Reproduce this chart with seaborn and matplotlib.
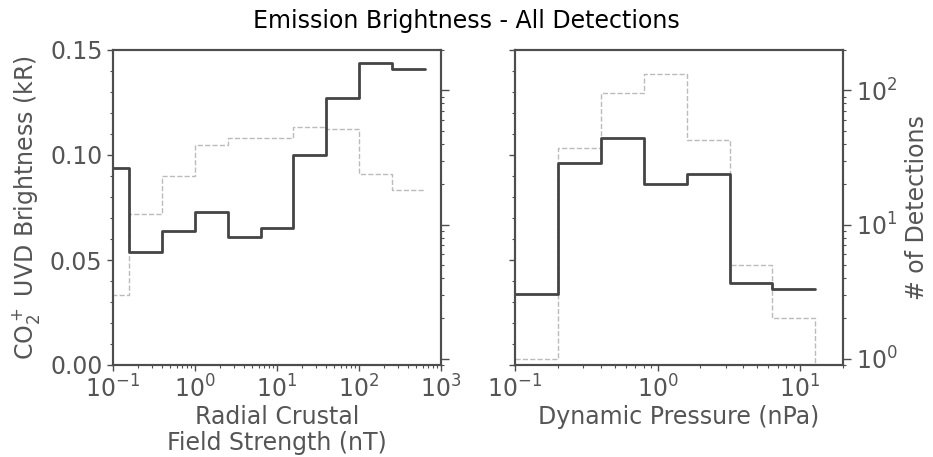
import matplotlib
matplotlib.use('Agg')
import matplotlib.pyplot as plt
import numpy as np
import pandas as pd
import seaborn as sns
from matplotlib.ticker import MultipleLocator, NullFormatter

# radial crustal field strength bins (log10 edges, first bin partly off axis)
crustal_log_edges = [-1.2, -0.8, -0.4, 0.0, 0.4, 0.8, 1.2, 1.6, 2.0, 2.4, 2.8]
crustal_brightness = [0.094, 0.054, 0.064, 0.073, 0.061, 0.065, 0.100, 0.127, 0.144, 0.141]
crustal_counts = [3, 12, 23, 39, 44, 44, 53, 52, 24, 18]

# dynamic pressure bins (nPa)
pressure_edges = [0.1, 0.2, 0.4, 0.8, 1.6, 3.2, 6.4, 12.8]
pressure_brightness = [0.034, 0.096, 0.108, 0.086, 0.091, 0.039, 0.036]
pressure_count_edges = [0.1, 0.2, 0.4, 0.8, 1.6, 3.2, 6.4, 12.8, 25.6]
pressure_counts = [1, 37, 96, 133, 43, 5, 2, 0]

TXT = '#555555'
SPINE = '#4d4d4d'
LINE = '#444444'
DASH = '#bbbbbb'

sns.set_theme(style='ticks')
plt.rcParams['font.family'] = ['DejaVu Sans']
plt.rcParams['axes.edgecolor'] = SPINE
plt.rcParams['axes.linewidth'] = 1.5


def step_frame(edges, values):
    return pd.DataFrame({'x': list(edges), 'y': list(values) + [values[-1]]})


def style_axes(ax, ax2):
    for a in (ax, ax2):
        a.tick_params(which='major', length=4, width=1, color=SPINE,
                      labelsize=17, labelcolor=TXT)
        a.tick_params(which='minor', length=2.5, width=0.8, color=SPINE)
    ax.set_xscale('log')
    ax2.set_yscale('log')
    ax.set_ylim(0, 0.15)
    ax.yaxis.set_major_locator(MultipleLocator(0.05))
    ax.yaxis.set_minor_locator(MultipleLocator(0.01))
    ax2.set_ylim(0.9, 200)
    ax2.tick_params(which='major', length=6)
    ax.set_zorder(ax2.get_zorder() + 1)
    ax.patch.set_visible(False)


fig = plt.figure(figsize=(9.33, 4.57), dpi=100)
axl = fig.add_axes([113 / 933, 92 / 457, 328 / 933, 315 / 457])
axr = fig.add_axes([515 / 933, 92 / 457, 328 / 933, 315 / 457])
axl2 = axl.twinx()
axr2 = axr.twinx()

crustal_edges = 10 ** np.array(crustal_log_edges)

sns.lineplot(data=step_frame(crustal_edges, crustal_counts), x='x', y='y', ax=axl2,
             drawstyle='steps-post', color=DASH, linestyle='--', linewidth=1, estimator=None)
sns.lineplot(data=step_frame(crustal_edges, crustal_brightness), x='x', y='y', ax=axl,
             drawstyle='steps-post', color=LINE, linewidth=2, estimator=None)
sns.lineplot(data=step_frame(pressure_count_edges, pressure_counts), x='x', y='y', ax=axr2,
             drawstyle='steps-post', color=DASH, linestyle='--', linewidth=1, estimator=None)
sns.lineplot(data=step_frame(pressure_edges, pressure_brightness), x='x', y='y', ax=axr,
             drawstyle='steps-post', color=LINE, linewidth=2, estimator=None)

style_axes(axl, axl2)
style_axes(axr, axr2)

axl.set_xlim(0.1, 1000)
axr.set_xlim(0.1, 20)

axl2.yaxis.set_major_formatter(NullFormatter())
axl2.yaxis.set_minor_formatter(NullFormatter())
axl2.set_ylabel('')
axr.yaxis.set_major_formatter(NullFormatter())
axr.set_ylabel('')

axl.set_ylabel(r'CO$_2^+$ UVD Brightness (kR)', fontsize=17, color=TXT)
axl.yaxis.set_label_coords(-0.215, 0.5)
axl.set_xlabel('Radial Crustal\nField Strength (nT)', fontsize=17, color=TXT,
               linespacing=1.1, labelpad=2)
axr.set_xlabel('Dynamic Pressure (nPa)', fontsize=17, color=TXT, labelpad=2)
axr2.set_ylabel('# of Detections', fontsize=17, color=TXT)
axr2.yaxis.set_label_coords(1.19, 0.5)

fig.text(0.5, 0.955, 'Emission Brightness - All Detections', ha='center', va='center',
         fontsize=17, color='black')

fig.savefig('out.png', dpi=100)
